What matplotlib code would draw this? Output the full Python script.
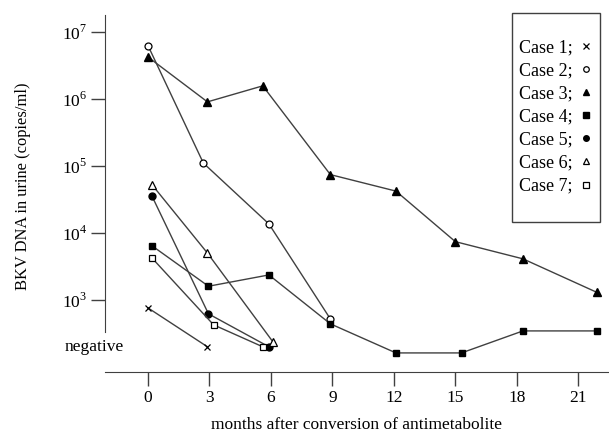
import matplotlib
matplotlib.use("Agg")
import matplotlib.pyplot as plt
from matplotlib.lines import Line2D
from matplotlib.patches import Rectangle

plt.rcParams['font.family'] = ['Liberation Serif', 'DejaVu Serif']
plt.rcParams['mathtext.fontset'] = 'custom'
plt.rcParams['mathtext.rm'] = 'Liberation Serif'

# valor usado para "negative" (por debajo del limite de deteccion)
NEG = 200

meses_caso1 = [0, 2.9]
carga_caso1 = [760, NEG]
meses_caso2 = [0, 2.7, 5.9, 8.9]
carga_caso2 = [6.2e6, 1.1e5, 1.36e4, 520]
meses_caso3 = [0, 2.9, 5.6, 8.9, 12.1, 15.0, 18.3, 21.9]
carga_caso3 = [4.2e6, 9.0e5, 1.56e6, 7.4e4, 4.2e4, 7.4e3, 4.1e3, 1.3e3]
meses_caso4 = [0.2, 2.95, 5.9, 8.9, 12.1, 15.3, 18.3, 21.9]
carga_caso4 = [6.4e3, 1.6e3, 2.36e3, 440, 162, 162, 345, 345]
meses_caso5 = [0.2, 2.95, 5.9]
carga_caso5 = [3.5e4, 620, NEG]
meses_caso6 = [0.2, 2.9, 6.1]
carga_caso6 = [5.2e4, 5.0e3, 236]
meses_caso7 = [0.2, 3.2, 5.6]
carga_caso7 = [4.2e3, 425, NEG]

etiquetas = ['Case 1;', 'Case 2;', 'Case 3;', 'Case 4;', 'Case 5;', 'Case 6;', 'Case 7;']
ticks_x = [0, 3, 6, 9, 12, 15, 18, 21]
ticks_y = [1e3, 1e4, 1e5, 1e6, 1e7]

color_linea = '#404040'

fig = plt.figure(figsize=(6.09, 4.33), dpi=100)
ax = fig.add_axes([105 / 609, 1 - 372 / 433, 503 / 609, 357 / 433])

# estilo de marcador por caso
estilos = [
    dict(marker='x', ms=5, mfc='black', mec='black', mew=0.9),
    dict(marker='o', ms=5, mfc='white', mec='black', mew=0.9),
    dict(marker='^', ms=5.5, mfc='black', mec='black'),
    dict(marker='s', ms=5, mfc='black', mec='black'),
    dict(marker='o', ms=5, mfc='black', mec='black'),
    dict(marker='^', ms=5.5, mfc='white', mec='black', mew=0.9),
    dict(marker='s', ms=5, mfc='white', mec='black', mew=0.9),
]

series = [
    (meses_caso1, carga_caso1), (meses_caso2, carga_caso2),
    (meses_caso3, carga_caso3), (meses_caso4, carga_caso4),
    (meses_caso5, carga_caso5), (meses_caso6, carga_caso6),
    (meses_caso7, carga_caso7),
]

for (meses, carga), est in zip(series, estilos):
    ax.plot(meses, carga, color=color_linea, linewidth=1.0, **est)

ax.set_yscale('log')
ax.set_xlim(-2.1, 22.45)
ax.set_ylim(10 ** 1.925, 10 ** 7.25)

ax.set_xticks(ticks_x)
ax.set_xticklabels([str(t) for t in ticks_x])
ax.set_yticks(ticks_y)
ax.set_yticklabels([r'$10^{%d}$' % e for e in [3, 4, 5, 6, 7]])
ax.minorticks_off()

ax.tick_params(axis='both', direction='out', length=10, width=1.0,
               color=color_linea, labelsize=12.5, pad=3)

for lado in ['top', 'right']:
    ax.spines[lado].set_visible(False)
ax.spines['left'].set_bounds(10 ** 2.52, 10 ** 7.25)
ax.spines['left'].set_color(color_linea)
ax.spines['bottom'].set_color(color_linea)

ax.text(-1.2, NEG, 'negative', ha='right', va='center', fontsize=12.5)

ax.set_xlabel('months after conversion of antimetabolite', fontsize=12.5, labelpad=8)
ax.set_ylabel('BKV DNA in urine (copies/ml)', fontsize=11.9)
ax.yaxis.set_label_coords(-0.148, 0.52)

# leyenda con el marcador despues del texto
manejadores = [Line2D([], [], linestyle='none', **dict(est, ms=est['ms'] - 1)) for est in estilos]
ley = ax.legend(manejadores, etiquetas, markerfirst=False, loc='center left',
                bbox_to_anchor=(519 / 609, 1 - 117 / 433), bbox_transform=fig.transFigure,
                borderaxespad=0, frameon=False, fontsize=13,
                handlelength=0.6, handletextpad=0.45, labelspacing=0.34,
                borderpad=0)

# marco de la leyenda, mas alto que el contenido
fig.patches.append(Rectangle((512 / 609, 1 - 222 / 433), 88 / 609, 209 / 433,
                             transform=fig.transFigure, fill=False,
                             edgecolor=color_linea, linewidth=1.0))

fig.savefig('out.png', dpi=100)
